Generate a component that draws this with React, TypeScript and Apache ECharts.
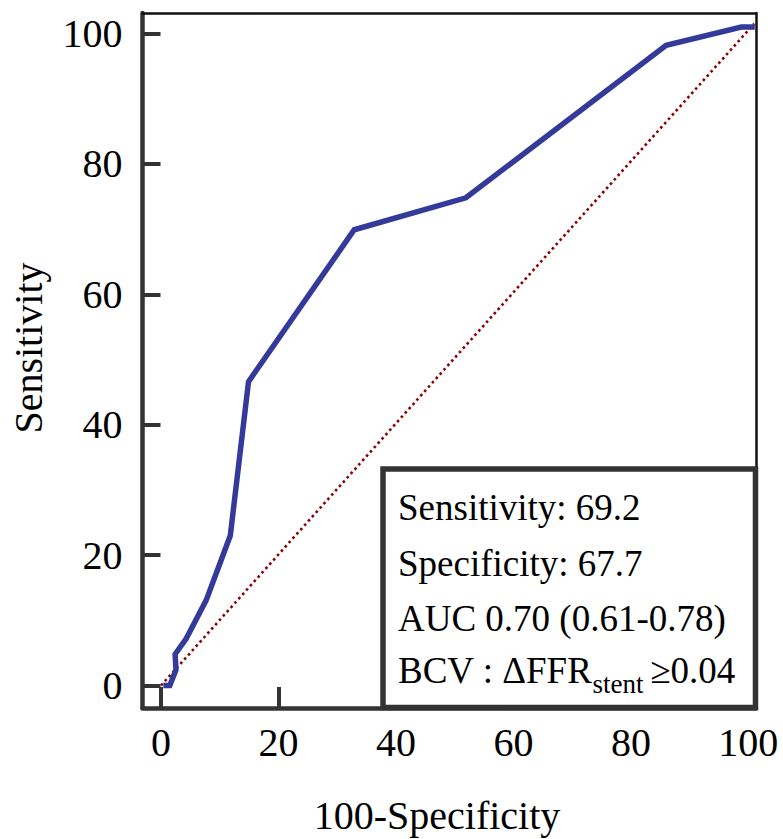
import React, { useEffect, useRef } from "react";
import * as echarts from "echarts";

const rocX = [0.4, 1.5, 2.55, 2.4, 4.3, 7.7, 11.8, 14.9, 32.9, 51.9, 86.0, 98.8, 101.1];
const rocY = [0, 0, 2.4, 4.8, 7.2, 13.1, 23.0, 46.6, 69.9, 74.8, 98.2, 101.0, 101.0];
const refX = [0, 101];
const refY = [0, 101.5];
const tickValues = [0, 20, 40, 60, 80, 100];
const xAxisTitle = "100-Specificity";
const yAxisTitle = "Sensitivity";
const boxLines = [
  "Sensitivity: 69.2",
  "Specificity: 67.7",
  "AUC 0.70 (0.61-0.78)",
  "BCV : ΔFFR{sub|stent }≥0.04",
];

const FONT = "'Liberation Serif', 'Times New Roman', serif";

export default function App() {
  const ref = useRef<HTMLDivElement>(null);
  useEffect(() => {
    if (!ref.current) return;
    const chart = echarts.init(ref.current, undefined, { renderer: "svg" });
    const roc = rocX.map((x, i) => [x, rocY[i]]);
    const diag = refX.map((x, i) => [x, refY[i]]);
    const lineMids = [507.5, 563.5, 618.5, 670];
    chart.setOption({
      animation: false,
      backgroundColor: "#fff",
      grid: { left: 142.5, top: 13, right: 27, bottom: 131, containLabel: false },
      xAxis: [
        {
          type: "value",
          min: -3.15,
          max: 101.3,
          position: "bottom",
          axisLine: { show: true, onZero: false, lineStyle: { color: "#333", width: 4.5 } },
          axisTick: { show: true, inside: true, length: 21, lineStyle: { color: "#333", width: 4 }, customValues: tickValues },
          axisLabel: { show: true, customValues: tickValues, margin: 14, fontSize: 40, fontFamily: FONT, color: "#000" },
          splitLine: { show: false },
        },
        {
          type: "value",
          min: -3.15,
          max: 101.3,
          position: "top",
          axisLine: { show: true, onZero: false, lineStyle: { color: "#111", width: 2.5 } },
          axisTick: { show: false },
          axisLabel: { show: false },
          splitLine: { show: false },
        },
      ],
      yAxis: [
        {
          type: "value",
          min: -3.45,
          max: 103.14,
          position: "left",
          axisLine: { show: true, onZero: false, lineStyle: { color: "#333", width: 4.5 } },
          axisTick: { show: true, inside: true, length: 18, lineStyle: { color: "#333", width: 4 }, customValues: tickValues },
          axisLabel: { show: true, customValues: tickValues, margin: 20, fontSize: 40, fontFamily: FONT, color: "#000" },
          splitLine: { show: false },
        },
        {
          type: "value",
          min: -3.45,
          max: 103.14,
          position: "right",
          axisLine: { show: true, onZero: false, lineStyle: { color: "#111", width: 2.5 } },
          axisTick: { show: false },
          axisLabel: { show: false },
          splitLine: { show: false },
        },
      ],
      series: [
        {
          type: "line",
          data: diag,
          xAxisIndex: 0,
          yAxisIndex: 0,
          symbol: "none",
          lineStyle: { color: "#8b0000", width: 2.6, type: [2.6, 3.2], cap: "butt" },
          z: 2,
        },
        {
          type: "line",
          data: roc,
          xAxisIndex: 0,
          yAxisIndex: 0,
          symbol: "none",
          lineStyle: { color: "#343a9a", width: 5.5, join: "miter" },
          z: 3,
        },
      ],
      graphic: [
        {
          type: "rect",
          z: 50,
          shape: { x: 383, y: 469, width: 372.5, height: 238.5 },
          style: { fill: "#fff", stroke: "#333", lineWidth: 5.5 },
        },
        ...boxLines.map((t, i) => ({
          type: "text",
          z: 51,
          x: 398,
          y: lineMids[i],
          style: {
            text: t,
            fill: "#000",
            fontSize: 37,
            fontFamily: FONT,
            verticalAlign: "middle",
            align: "left",
            rich: {
              sub: { fontSize: 27, fontFamily: FONT, fill: "#000", verticalAlign: "bottom", lineHeight: 54 },
            },
          },
        })),
        {
          type: "text",
          z: 51,
          x: 437,
          y: 815.5,
          style: { text: xAxisTitle, fill: "#000", fontSize: 40, fontFamily: FONT, align: "center", verticalAlign: "middle" },
        },
        {
          type: "text",
          z: 51,
          x: 28.5,
          y: 348,
          rotation: Math.PI / 2,
          style: { text: yAxisTitle, fill: "#000", fontSize: 40, fontFamily: FONT, align: "center", verticalAlign: "middle" },
        },
      ],
    });
    return () => chart.dispose();
  }, []);
  return <div ref={ref} style={{ position: "absolute", left: 0, top: 0, width: 783, height: 839 }} />;
}
